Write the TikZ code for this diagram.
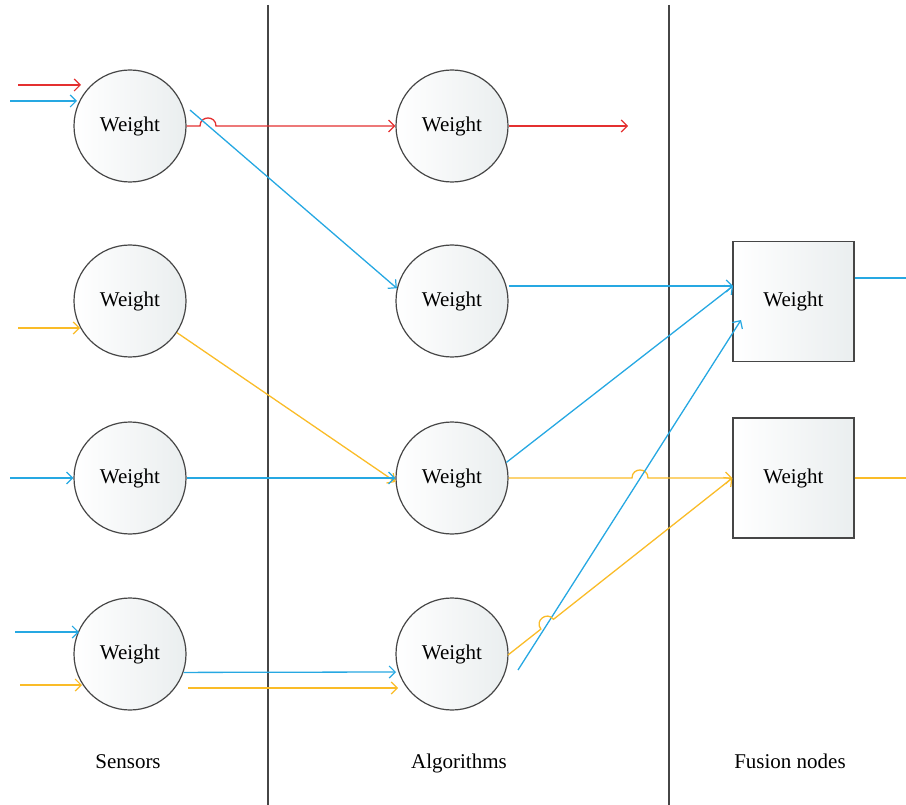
\documentclass[tikz,border=0pt]{standalone}
\usepackage{fontspec}
\setmainfont{Liberation Serif}
\usetikzlibrary{arrows.meta}
\definecolor{cred}{RGB}{228,48,48}
\definecolor{cblue}{RGB}{38,168,226}
\definecolor{cyel}{RGB}{250,188,40}
\definecolor{cgray}{RGB}{70,70,70}
\definecolor{cfill}{RGB}{234,238,239}
\begin{document}
\begin{tikzpicture}[x=1pt,y=-1pt,
  wnode/.style={circle, draw=cgray, line width=1.2pt, minimum size=112pt, inner sep=0pt,
    left color=white, right color=cfill, font=\fontsize{21}{24}\selectfont},
  fnode/.style={rectangle, draw=cgray, line width=1.2pt, minimum width=121pt, minimum height=120pt,
    inner sep=0pt, left color=white, right color=cfill, font=\fontsize{21}{24}\selectfont},
  lbl/.style={font=\fontsize{21}{24}\selectfont, inner sep=0pt, anchor=base},
  conn/.style={line width=1.3pt},
  arr/.style={conn, -{Straight Barb[length=6pt,width=12pt,line width=1.2pt]}},
  sep/.style={draw=cgray, line width=1.1pt}]
\useasboundingbox (0,0) rectangle (906,805);
% separators
\coordinate (v1t) at (268,5); \coordinate (v1b) at (268,805);
\coordinate (v2t) at (669,5); \coordinate (v2b) at (669,805);
\draw[sep] (v1t) -- (v1b);
\draw[sep] (v2t) -- (v2b);
% nodes
\node[wnode] (s1) at (130,126) {Weight};
\node[wnode] (s2) at (130,301) {Weight};
\node[wnode] (s3) at (130,478) {Weight};
\node[wnode] (s4) at (130,654) {Weight};
\node[wnode] (a1) at (452,126) {Weight};
\node[wnode] (a2) at (452,301) {Weight};
\node[wnode] (a3) at (452,478) {Weight};
\node[wnode] (a4) at (452,654) {Weight};
\node[fnode] (f1) at (793.5,301.5) {Weight};
\node[fnode] (f2) at (793.5,478) {Weight};
% labels
\node[lbl] (l1) at (128,768) {Sensors};
\node[lbl] (l2) at (459,768) {Algorithms};
\node[lbl] (l3) at (790,768) {Fusion nodes};
% free ends
\coordinate (r0) at (18,85);  \coordinate (r1) at (81,85);
\coordinate (b0) at (10,101); \coordinate (b1) at (77,101);
\coordinate (y20) at (18,328); \coordinate (y21) at (80,328);
\coordinate (b30) at (10,478);
\coordinate (b40) at (15,632); \coordinate (b41) at (79,632);
\coordinate (y40) at (20,685); \coordinate (y41) at (82,685);
\coordinate (rout) at (628,126);
\coordinate (bout) at (906,278);
\coordinate (yout) at (906,478);
\coordinate (s1o) at (190,110);
\coordinate (s4y) at (188,688);
\coordinate (a4y) at (398,688);
\coordinate (a4bin) at (396,672);
% inputs
\draw[arr,cred] (r0) -- (r1);
\draw[arr,cblue] (b0) -- (b1);
\draw[arr,cyel] (y20) -- (y21);
\draw[arr,cblue] (b30) -- (s3.west);
\draw[arr,cblue] (b40) -- (b41);
\draw[arr,cyel] (y40) -- (y41);
% sensor -> algorithm
\draw[arr,cred] (s1.east) -- (200,126) .. controls (200,115.3) and (216,115.3) .. (216,126) -- (a1.west);
\draw[arr,cblue] (s1o) -- (a2.167);
\draw[arr,cyel] (s2.-34) -- (a3.184);
\draw[arr,cblue] (s3.east) -- (a3.west);
\draw[arr,cblue] (s4.-19) -- (a4bin);
\draw[arr,cyel] (s4y) -- (a4y);
% algorithm outputs
\draw[arr,cred] (a1.east) -- (rout);
\coordinate (f1in) at (733,286);
\draw[arr,cblue] (a2.east |- f1in) -- (f1in);
\draw[arr,cblue] (a3.16) -- (f1in);
\draw[arr,cyel] (a3.east) -- (632,478) .. controls (632,467.3) and (648,467.3) .. (648,478) -- (f2.west);
\coordinate (a4b) at (518,670);
\coordinate (f1b) at (741,320);
\draw[arr,cblue] (a4b) -- (f1b);
\draw[arr,cyel] (508,655) -- (540.9,629.1) .. controls (534.3,620.7) and (546.9,610.9) .. (553.5,619.3) -- (f2.west);
% fusion outputs
\draw[conn,cblue] (f1.east |- bout) -- (bout);
\draw[conn,cyel] (f2.east) -- (yout);
\end{tikzpicture}
\end{document}
